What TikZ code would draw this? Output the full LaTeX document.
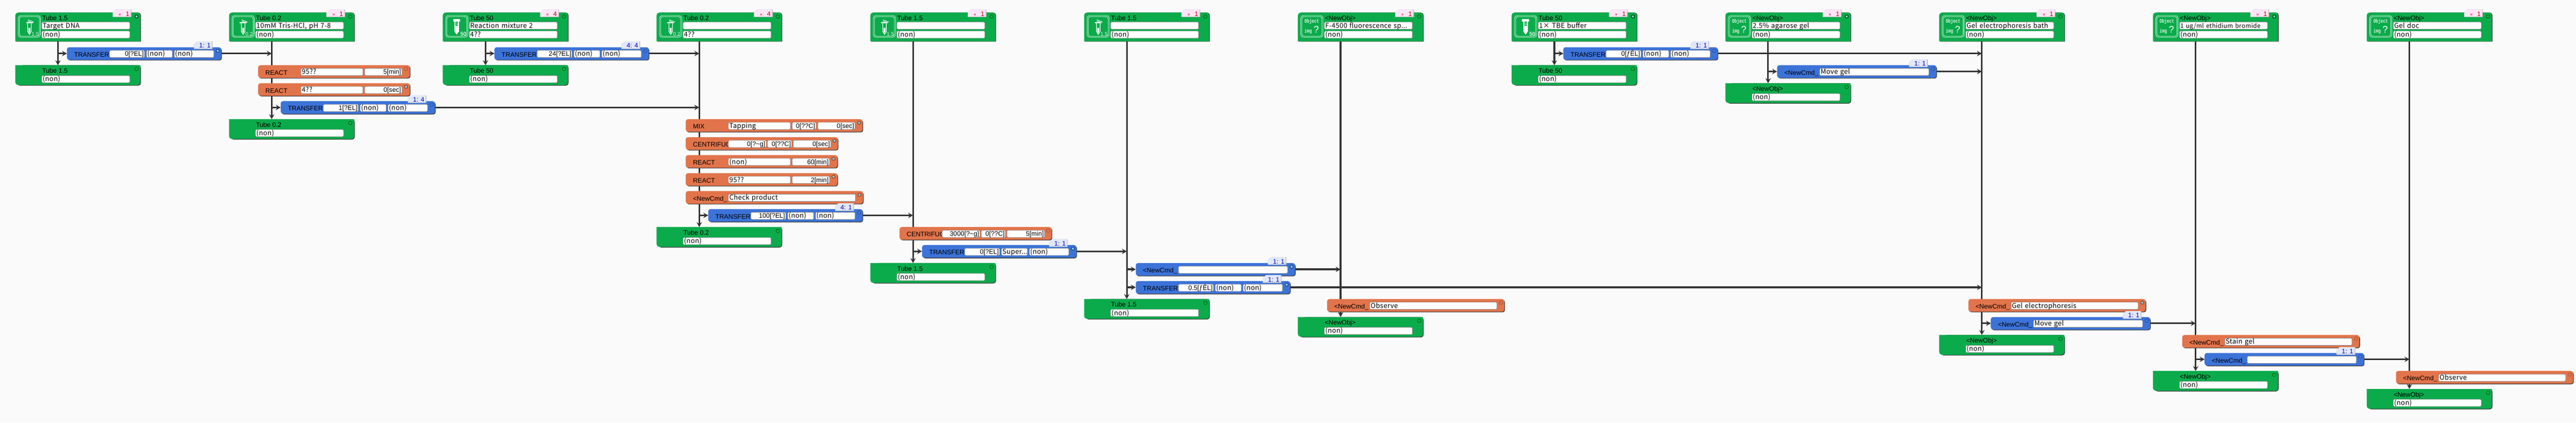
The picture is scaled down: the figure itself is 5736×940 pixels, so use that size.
\documentclass[tikz,border=0pt]{standalone}
\usepackage{fontspec}
\setmainfont{Liberation Sans}
\newfontfamily\gothicfont[LetterSpace=3]{Noto Sans CJK JP}
\newfontfamily\iconfont{Liberation Mono}
\usetikzlibrary{arrows.meta, backgrounds}
\definecolor{pagefill}{HTML}{FAFAFA}
\definecolor{tubegreen}{HTML}{0BAB4B}
\definecolor{reactorange}{HTML}{E2744B}
\definecolor{moveblue}{HTML}{3C73D9}
\definecolor{edgegrey}{HTML}{454545}
\definecolor{linegrey}{HTML}{333333}
\definecolor{tagpink}{HTML}{FBE5F7}
\definecolor{tagblue}{HTML}{E2E8FB}
\definecolor{tagshade}{HTML}{BEBEBE}
\definecolor{icongreen}{HTML}{DDF5E5}
\tikzset{
  anynode/.style={inner sep=0, outer sep=0},
  titletext/.style={anynode, anchor=base west, font=\fontsize{14.5}{16}\selectfont, text=black},
  tubenode/.style={anynode, rectangle, anchor=north west},
  barnode/.style={anynode, rectangle, anchor=north west, rounded corners=5pt, minimum height=28pt, fill=#1},
  fieldbox/.style={rectangle, anchor=north west, draw=black!48, line width=0.8pt, fill=white, rounded corners=2pt,
    inner xsep=2pt, inner ysep=0pt, text height=13pt, text depth=3pt, outer sep=0},
  tagtext/.style={anynode, anchor=base east, font=\fontsize{14.5}{16}\selectfont},
  iconlabel/.style={anynode, text=icongreen},
  ondot/.style={circle, anynode, minimum size=7pt, fill=cyan!50, draw=#1, line width=2pt},
  offdot/.style={circle, anynode, minimum size=8pt, draw=#1, line width=0.9pt},
  stem/.style={draw=linegrey, line width=3.6pt, -{Stealth[length=11pt, width=12pt, inset=4pt]}},
  flow/.style={draw=linegrey, line width=4pt, -{Stealth[length=11pt, width=12pt, inset=4pt]}},
}
\newcommand{\tfield}[5]{%
  \pgfmathsetmacro\fieldtw{#4-4}
  \node[fieldbox, text width=\fieldtw pt, align=left, font=\gothicfont\fontsize{15}{16}\selectfont] (#1) at (#2,#3) {\mbox{#5}};}
\newcommand{\nfield}[5]{%
  \pgfmathsetmacro\fieldtw{#4-4}
  \node[fieldbox, text width=\fieldtw pt, align=right, font=\fontsize{14.5}{16}\selectfont] (#1) at (#2,#3) {#5};}
\newcommand{\tubetag}[3]{%
  \fill[tagshade] (#2+217+7,21) -- (#2+258.5,21) -- (#2+258.5,38) -- (#2+217,38) -- (#2+217,27) -- cycle;
  \fill[tagpink] (#2+217+7,21) -- (#2+257,21) -- (#2+257,37) -- (#2+217,37) -- (#2+217,27) -- cycle;
  \node[tagtext, text=red!75!black] (#1) at (#2+254,36) {{\fontsize{10}{12}\selectfont×}\hspace{10pt}#3};}
\newcommand{\cmdtag}[4]{%
  \fill[tagshade] (#2+7,#3) -- (#2+41.5,#3) -- (#2+41.5,#3+17) -- (#2,#3+17) -- (#2,#3+6) -- cycle;
  \fill[tagblue] (#2+7,#3) -- (#2+40,#3) -- (#2+40,#3+16) -- (#2,#3+16) -- (#2,#3+6) -- cycle;
  \node[tagtext, text=blue!70!black] (#1) at (#2+37,#3+14.5) {#4};}
\newcommand{\tubehead}[7]{%
  \fill[edgegrey] (#2+280,92.5) [rounded corners=6pt] -- (#2+280,28) -- (#2+2,28) [sharp corners] -- (#2+2,92.5) -- cycle;
  \fill[tubegreen] (#2,92) [rounded corners=6pt] -- (#2,28) -- (#2+278.5,28) -- (#2+278.5,60) [sharp corners] -- (#2+278.5,92) -- cycle;
  \node[tubenode, minimum width=280pt, minimum height=64pt] (#1) at (#2,28) {};
  \coordinate (#6) at (#2+95,92);
  \node[titletext] (#1-n) at (#2+60,45.5) {#3};
  \tfield{#1-a}{#2+59}{49}{196}{#4}
  \tfield{#1-b}{#2+59}{69}{196}{#5}
  \node[#7dot=green!35!black] (#1-d) at (#2+270,36.7) {};}
\newcommand{\tubefoot}[4]{%
  \fill[edgegrey, rounded corners=6pt] (#2+10,#3) -- (#2+280,#3) -- (#2+280,#3+45.5) -- (#2+4,#3+45.5) -- (#2+4,#3+20) -- cycle;
  \fill[tubegreen] (#2+278.5,#3) [rounded corners=6pt] -- (#2+278.5,#3+44) -- (#2,#3+44) [sharp corners] -- (#2,#3) -- cycle;
  \node[tubenode, minimum width=280pt, minimum height=45pt] (#1) at (#2,#3) {};
  \node[titletext] (#1-n) at (#2+60,#3+17.5) {#4};
  \tfield{#1-a}{#2+59}{#3+23}{196}{(non)}
  \node[offdot=green!35!black] (#1-d) at (#2+270,#3+8.5) {};}
\newcommand{\cmdbar}[6]{%
  \fill[edgegrey, rounded corners=5pt] (#2+2,#3+2) rectangle (#2+#4,#3+29.5);
  \node[barnode=#5, minimum width=#4-1.5] (#1) at (#2,#3) {};
  \node[titletext] (#1-n) at (#2+16,#3+21.5) {#6};}
\newcommand{\cmddot}[5]{%
  \node[#5dot=#4!70!black] (#1-d) at (#2,#3+8) {};}
\newcommand{\reactcmd}[6]{%
  \cmdbar{#1}{#2}{#3}{339}{reactorange}{REACT}
  \tfield{#1-a}{#2+95}{#3+7}{138}{#4}
  \nfield{#1-b}{#2+237}{#3+7}{83}{#5}
  \cmddot{#1}{#2+329}{#3}{reactorange}{#6}}
\newcommand{\mixcmd}[6]{%
  \cmdbar{#1}{#2}{#3}{395}{reactorange}{MIX}
  \tfield{#1-a}{#2+95}{#3+7}{138}{#4}
  \nfield{#1-b}{#2+237}{#3+7}{53}{#5}
  \nfield{#1-c}{#2+294}{#3+7}{83}{#6}
  \cmddot{#1}{#2+386}{#3}{reactorange}{on}}
\newcommand{\centcmd}[7]{%
  \cmdbar{#1}{#2}{#3}{340}{reactorange}{CENTRIFUGE}
  \nfield{#1-a}{#2+95}{#3+7}{84}{#4}
  \nfield{#1-b}{#2+182}{#3+7}{54}{#5}
  \nfield{#1-c}{#2+239}{#3+7}{84}{#6}
  \cmddot{#1}{#2+331}{#3}{reactorange}{#7}}
\newcommand{\xfercmd}[8]{%
  \cmdbar{#1}{#2}{#3}{345}{moveblue}{TRANSFER}
  \nfield{#1-a}{#2+95}{#3+7}{78}{#4}
  \tfield{#1-b}{#2+177}{#3+7}{58}{#5}
  \tfield{#1-c}{#2+239}{#3+7}{88}{#6}
  \cmddot{#1}{#2+336}{#3}{moveblue}{#8}
  \cmdtag{#1-t}{#2+283}{#3-13}{#7}}
\newcommand{\ordercmd}[5]{%
  \cmdbar{#1}{#2}{#3}{396}{reactorange}{<NewCmd\_}
  \tfield{#1-a}{#2+95}{#3+7}{283}{#4}
  \cmddot{#1}{#2+387}{#3}{reactorange}{#5}}
\newcommand{\sendcmd}[5]{%
  \cmdbar{#1}{#2}{#3}{356}{moveblue}{<NewCmd\_}
  \tfield{#1-a}{#2+95}{#3+7}{243}{#4}
  \cmddot{#1}{#2+347}{#3}{moveblue}{#5}
  \cmdtag{#1-t}{#2+294}{#3-13}{1: 1}}
\newcommand{\iconframe}[1]{%
  \draw[icongreen, line width=0.9pt, rounded corners=6pt] (#1+6.5,34.5) rectangle (#1+56,83);
  \draw[icongreen, line width=0.9pt, rounded corners=5pt] (#1+9,37) rectangle (#1+53.5,80.5);}
\newcommand{\vialsmall}[3]{%
  \iconframe{#2}
  \fill[white] (#2+24,49.5) rectangle (#2+39,51.5);
  \draw[white, line width=1.2pt] (#2+28,44) -- (#2+41,49) (#2+28,47) -- (#2+38,50.5);
  \draw[white, line width=1.3pt] (#2+27.5,52) -- (#2+27.5,70) -- (#2+31.5,76.5) -- (#2+35.5,70) -- (#2+35.5,52);
  \fill[white] (#2+29.5,62) -- (#2+33.5,62) -- (#2+33.5,70) -- (#2+31.5,74) -- (#2+29.5,70) -- cycle;
  \node[iconlabel, anchor=base east, font=\fontsize{11.5}{12}\selectfont] (#1-i) at (#2+52.5,80) {#3};}
\newcommand{\vialbig}[3]{%
  \iconframe{#2}
  \fill[white] (#2+23,42) rectangle (#2+39,48);
  \fill[white] (#2+26,48) -- (#2+36,48) -- (#2+36,70) -- (#2+31,77) -- (#2+26,70) -- cycle;
  \fill[tubegreen] (#2+28,48) rectangle (#2+34,57);
  \fill[white] (#2+30,51) rectangle (#2+34,52) (#2+30,54) rectangle (#2+34,55);
  \node[iconlabel, anchor=base east, font=\bfseries\fontsize{12}{12}\selectfont] (#1-i) at (#2+52.5,80) {#3};}
\newcommand{\objicon}[2]{%
  \iconframe{#2}
  \node[iconlabel, font=\iconfont\bfseries\fontsize{9}{10}\selectfont] (#1-i) at (#2+31,48) {\scalebox{1}[1.35]{Object}};
  \node[iconlabel, font=\iconfont\bfseries\fontsize{9}{10}\selectfont] (#1-j) at (#2+23,70) {\scalebox{1}[1.35]{img}};
  \node[iconlabel, text=white, font=\fontsize{21}{22}\selectfont] (#1-q) at (#2+41,66) {?};}
\begin{document}
\begin{tikzpicture}[x=1pt, y=-1pt]
  \useasboundingbox (0,0) rectangle (5736,940);
  \tubehead{t0}{34}{Tube 1.5}{Target DNA}{(non)}{rail0}{on}
  \vialsmall{t0}{34}{1.5}
  \tubetag{t0-t}{34}{1}
  \xfercmd{c0}{149}{105}{0[?EL]}{(non)}{(non)}{1: 1}{on}
  \tubefoot{b0}{34}{145}{Tube 1.5}

  \tubehead{t1}{510}{Tube 0.2}{10mM Tris-HCl, pH 7-8}{(non)}{rail1}{off}
  \vialsmall{t1}{510}{0.2}
  \tubetag{t1-t}{510}{1}
  \reactcmd{c1a}{575}{145}{95??}{5[min]}{off}
  \reactcmd{c1b}{575}{185}{4??}{0[sec]}{on}
  \xfercmd{c1c}{625}{225}{1[?EL]}{(non)}{(non)}{1: 4}{off}
  \tubefoot{b1}{510}{265}{Tube 0.2}

  \tubehead{t2}{986}{Tube 50}{Reaction mixture 2}{4??}{rail2}{off}
  \vialbig{t2}{986}{50}
  \tubetag{t2-t}{986}{4}
  \xfercmd{c2}{1101}{105}{24[?EL]}{(non)}{(non)}{4: 4}{off}
  \tubefoot{b2}{986}{145}{Tube 50}

  \tubehead{t3}{1462}{Tube 0.2}{}{4??}{rail3}{off}
  \vialsmall{t3}{1462}{0.2}
  \tubetag{t3-t}{1462}{4}
  \mixcmd{c3a}{1527}{265}{Tapping}{0[??C]}{0[sec]}
  \centcmd{c3b}{1527}{305}{0[?\textasciitilde g]}{0[??C]}{0[sec]}{on}
  \reactcmd{c3c}{1527}{345}{(non)}{60[min]}{on}
  \reactcmd{c3d}{1527}{385}{95??}{2[min]}{on}
  \ordercmd{c3e}{1527}{425}{Check product}{on}
  \xfercmd{c3f}{1577}{465}{100[?EL]}{(non)}{(non)}{4: 1}{off}
  \tubefoot{b3}{1462}{505}{Tube 0.2}

  \tubehead{t4}{1938}{Tube 1.5}{}{(non)}{rail4}{off}
  \vialsmall{t4}{1938}{1.5}
  \tubetag{t4-t}{1938}{1}
  \centcmd{c4a}{2003}{505}{3000[?\textasciitilde g]}{0[??C]}{5[min]}{off}
  \xfercmd{c4b}{2053}{545}{0[?EL]}{Super...}{(non)}{1: 1}{on}
  \tubefoot{b4}{1938}{585}{Tube 1.5}

  \tubehead{t5}{2414}{Tube 1.5}{}{(non)}{rail5}{off}
  \vialsmall{t5}{2414}{1.5}
  \tubetag{t5-t}{2414}{1}
  \sendcmd{c5a}{2529}{585}{}{on}
  \xfercmd{c5b}{2529}{625}{0.5[ƒÊL]}{(non)}{(non)}{1: 1}{on}
  \tubefoot{b5}{2414}{665}{Tube 1.5}

  \tubehead{t6}{2890}{<NewObj>}{F-4500 fluorescence sp...}{(non)}{rail6}{off}
  \objicon{t6}{2890}
  \tubetag{t6-t}{2890}{1}
  \ordercmd{c6}{2955}{665}{Observe}{off}
  \tubefoot{b6}{2890}{705}{<NewObj>}

  \tubehead{t7}{3366}{Tube 50}{1× TBE buffer}{(non)}{rail7}{on}
  \vialbig{t7}{3366}{50}
  \tubetag{t7-t}{3366}{1}
  \xfercmd{c7}{3481}{105}{0[ƒÊL]}{(non)}{(non)}{1: 1}{off}
  \tubefoot{b7}{3366}{145}{Tube 50}

  \tubehead{t8}{3842}{<NewObj>}{2.5\% agarose gel}{(non)}{rail8}{on}
  \objicon{t8}{3842}
  \tubetag{t8-t}{3842}{1}
  \sendcmd{c8}{3957}{145}{Move gel}{off}
  \tubefoot{b8}{3842}{185}{<NewObj>}

  \tubehead{t9}{4318}{<NewObj>}{Gel electrophoresis bath}{(non)}{rail9}{off}
  \objicon{t9}{4318}
  \tubetag{t9-t}{4318}{1}
  \ordercmd{c9a}{4383}{665}{Gel electrophoresis}{on}
  \sendcmd{c9b}{4433}{705}{Move gel}{off}
  \tubefoot{b9}{4318}{745}{<NewObj>}

  \tubehead{t10}{4794}{<NewObj>}{{\fontsize{13.5}{16}\selectfont 1 ug/ml ethidium bromide}}{(non)}{rail10}{on}
  \objicon{t10}{4794}
  \tubetag{t10-t}{4794}{1}
  \ordercmd{c10a}{4859}{745}{Stain gel}{off}
  \sendcmd{c10b}{4909}{785}{}{off}
  \tubefoot{b10}{4794}{825}{<NewObj>}

  \tubehead{t11}{5270}{<NewObj>}{Gel doc}{(non)}{rail11}{off}
  \objicon{t11}{5270}
  \tubetag{t11-t}{5270}{1}
  \ordercmd{c11}{5335}{825}{Observe}{off}
  \tubefoot{b11}{5270}{865}{<NewObj>}

  \begin{scope}[on background layer]
    \fill[pagefill] (0,0) rectangle (5736,940);
    \draw[stem] (rail0) -- (rail0 |- b0.north);
    \draw[stem] (rail1) -- (rail1 |- b1.north);
    \draw[stem] (rail2) -- (rail2 |- b2.north);
    \draw[stem] (rail3) -- (rail3 |- b3.north);
    \draw[stem] (rail4) -- (rail4 |- b4.north);
    \draw[stem] (rail5) -- (rail5 |- b5.north);
    \draw[stem] (rail6) -- (rail6 |- b6.north);
    \draw[stem] (rail7) -- (rail7 |- b7.north);
    \draw[stem] (rail8) -- (rail8 |- b8.north);
    \draw[stem] (rail9) -- (rail9 |- b9.north);
    \draw[stem] (rail10) -- (rail10 |- b10.north);
    \draw[stem] (rail11) -- (rail11 |- b11.north);
    \draw[flow] (rail0 |- c0.west) -- (c0.west);
    \draw[flow] (rail1 |- c1c.west) -- (c1c.west);
    \draw[flow] (rail2 |- c2.west) -- (c2.west);
    \draw[flow] (rail3 |- c3f.west) -- (c3f.west);
    \draw[flow] (rail4 |- c4b.west) -- (c4b.west);
    \draw[flow] (rail5 |- c5a.west) -- (c5a.west);
    \draw[flow] (rail5 |- c5b.west) -- (c5b.west);
    \draw[flow] (rail7 |- c7.west) -- (c7.west);
    \draw[flow] (rail8 |- c8.west) -- (c8.west);
    \draw[flow] (rail9 |- c9b.west) -- (c9b.west);
    \draw[flow] (rail10 |- c10b.west) -- (c10b.west);
    \draw[flow] (c0.east) -- (c0.east -| rail1);
    \draw[flow] (c1c.east) -- (c1c.east -| rail3);
    \draw[flow] (c2.east) -- (c2.east -| rail3);
    \draw[flow] (c3f.east) -- (c3f.east -| rail4);
    \draw[flow] (c4b.east) -- (c4b.east -| rail5);
    \draw[flow] (c5a.east) -- (c5a.east -| rail6);
    \draw[flow] (c5b.east) -- (c5b.east -| rail9);
    \draw[flow] (c7.east) -- (c7.east -| rail9);
    \draw[flow] (c8.east) -- (c8.east -| rail9);
    \draw[flow] (c9b.east) -- (c9b.east -| rail10);
    \draw[flow] (c10b.east) -- (c10b.east -| rail11);
  \end{scope}
\end{tikzpicture}
\end{document}
